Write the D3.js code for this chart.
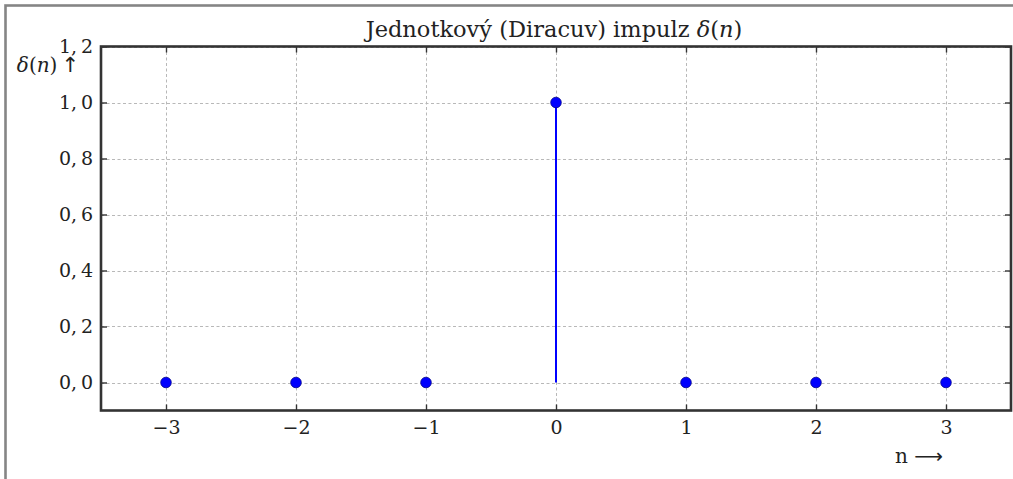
<!DOCTYPE html>
<html>
<head>
<meta charset="utf-8">
<script src="https://cdn.jsdelivr.net/npm/d3@7"></script>
<style>
  html, body { margin: 0; padding: 0; background: #fff; }
  svg { display: block; }
  text { font-family: "DejaVu Serif", serif; fill: #222; }
</style>
</head>
<body>
<svg id="chart" width="1013" height="479"></svg>
<script>
// Discrete unit impulse: sample indices and values
const nValues = [-3, -2, -1, 0, 1, 2, 3];
const deltaValues = [0, 0, 0, 1, 0, 0, 0];
const xTicks = [-3, -2, -1, 0, 1, 2, 3];
const yTicks = [0.0, 0.2, 0.4, 0.6, 0.8, 1.0, 1.2];
const xDomain = [-3.5, 3.5];
const yDomain = [-0.1, 1.2];

const W = 1013, H = 479;
const plot = { left: 101, right: 1011, top: 46.5, bottom: 410.5 };
const FONT = "'DejaVu Serif', serif";

const svg = d3.select("#chart");

// outer frame
svg.append("rect")
  .attr("x", 5.5).attr("y", 5.5)
  .attr("width", W + 20).attr("height", H + 20)
  .attr("fill", "none").attr("stroke", "#858585").attr("stroke-width", 2.6);

const x = d3.scaleLinear().domain(xDomain).range([plot.left, plot.right]);
const y = d3.scaleLinear().domain(yDomain).range([plot.bottom, plot.top]);

// grid
const grid = svg.append("g")
  .attr("stroke", "#b8b8b8").attr("stroke-width", 1).attr("stroke-dasharray", "3,2.5");
grid.selectAll("line.v").data(xTicks).join("line")
  .attr("x1", d => Math.round(x(d)) + 0.5).attr("x2", d => Math.round(x(d)) + 0.5)
  .attr("y1", plot.top).attr("y2", plot.bottom);
grid.selectAll("line.h").data(yTicks).join("line")
  .attr("y1", d => Math.round(y(d)) + 0.5).attr("y2", d => Math.round(y(d)) + 0.5)
  .attr("x1", plot.left).attr("x2", plot.right);

// inward ticks on all four sides
const tickLen = 6;
const fmtY = d => d.toFixed(1).replace(".", ",\u2009");
const fmtX = d => (d < 0 ? "\u2212" + Math.abs(d) : String(d));

const axBottom = d3.axisBottom(x).tickValues(xTicks).tickSizeInner(-tickLen).tickSizeOuter(0).tickPadding(10).tickFormat(fmtX);
const axTop = d3.axisTop(x).tickValues(xTicks).tickSizeInner(-tickLen).tickSizeOuter(0).tickFormat("");
const axLeft = d3.axisLeft(y).tickValues(yTicks).tickSizeInner(-tickLen).tickSizeOuter(0).tickPadding(8).tickFormat(fmtY);
const axRight = d3.axisRight(y).tickValues(yTicks).tickSizeInner(-tickLen).tickSizeOuter(0).tickFormat("");

function styleAxis(g) {
  g.select(".domain").remove();
  g.selectAll(".tick line").attr("stroke", "#333").attr("stroke-width", 1.4);
  g.selectAll(".tick text")
    .attr("fill", "#222")
    .style("font-family", FONT)
    .style("font-size", "19px");
}

svg.append("g").attr("transform", `translate(0,${plot.bottom})`).call(axBottom).call(styleAxis)
  .selectAll(".tick text").attr("dy", "0.71em");
svg.append("g").attr("transform", `translate(0,${plot.top})`).call(axTop).call(styleAxis);
svg.append("g").attr("transform", `translate(${plot.left},0)`).call(axLeft).call(styleAxis)
  .selectAll(".tick text").attr("dy", "0.3em");
svg.append("g").attr("transform", `translate(${plot.right},0)`).call(axRight).call(styleAxis);

// stems and markers
const samples = nValues.map((n, i) => ({ n, v: deltaValues[i] }));
svg.append("g").selectAll("line").data(samples.filter(d => d.v !== 0)).join("line")
  .attr("x1", d => x(d.n)).attr("x2", d => x(d.n))
  .attr("y1", y(0)).attr("y2", d => y(d.v))
  .attr("stroke", "#0000ff").attr("stroke-width", 2);
svg.append("g").selectAll("circle").data(samples).join("circle")
  .attr("cx", d => x(d.n)).attr("cy", d => y(d.v)).attr("r", 5.3)
  .attr("fill", "#0000ff").attr("stroke", "#00008b").attr("stroke-width", 0.8);

// axes frame
svg.append("rect")
  .attr("x", plot.left).attr("y", plot.top)
  .attr("width", plot.right - plot.left).attr("height", plot.bottom - plot.top)
  .attr("fill", "none").attr("stroke", "#333").attr("stroke-width", 2.6);

// title
const title = svg.append("text")
  .attr("x", (plot.left + plot.right) / 2 - 2).attr("y", 37)
  .attr("text-anchor", "middle")
  .style("font-family", FONT)
  .style("font-size", "22.5px");
title.append("tspan").text("Jednotkový (Diracuv) impulz ");
title.append("tspan").style("font-style", "italic").text("δ");
title.append("tspan").text("(");
title.append("tspan").style("font-style", "italic").text("n");
title.append("tspan").text(")");

// y axis label
const yl = svg.append("text")
  .attr("x", 79).attr("y", 72).attr("text-anchor", "end")
  .style("font-family", FONT)
  .style("font-size", "20px");
yl.append("tspan").style("font-style", "italic").text("δ");
yl.append("tspan").text("(");
yl.append("tspan").style("font-style", "italic").text("n");
yl.append("tspan").text(")\u2009");
yl.append("tspan").style("font-family", "'DejaVu Sans', sans-serif").style("font-size", "21px").text("\u2191");

// x axis label
const xl = svg.append("text")
  .attr("x", 943).attr("y", 463).attr("text-anchor", "end")
  .style("font-family", FONT)
  .style("font-size", "20px");
xl.append("tspan").text("n ");
xl.append("tspan").style("font-family", "'DejaVu Sans', sans-serif").text("\u27F6");
</script>
</body>
</html>
